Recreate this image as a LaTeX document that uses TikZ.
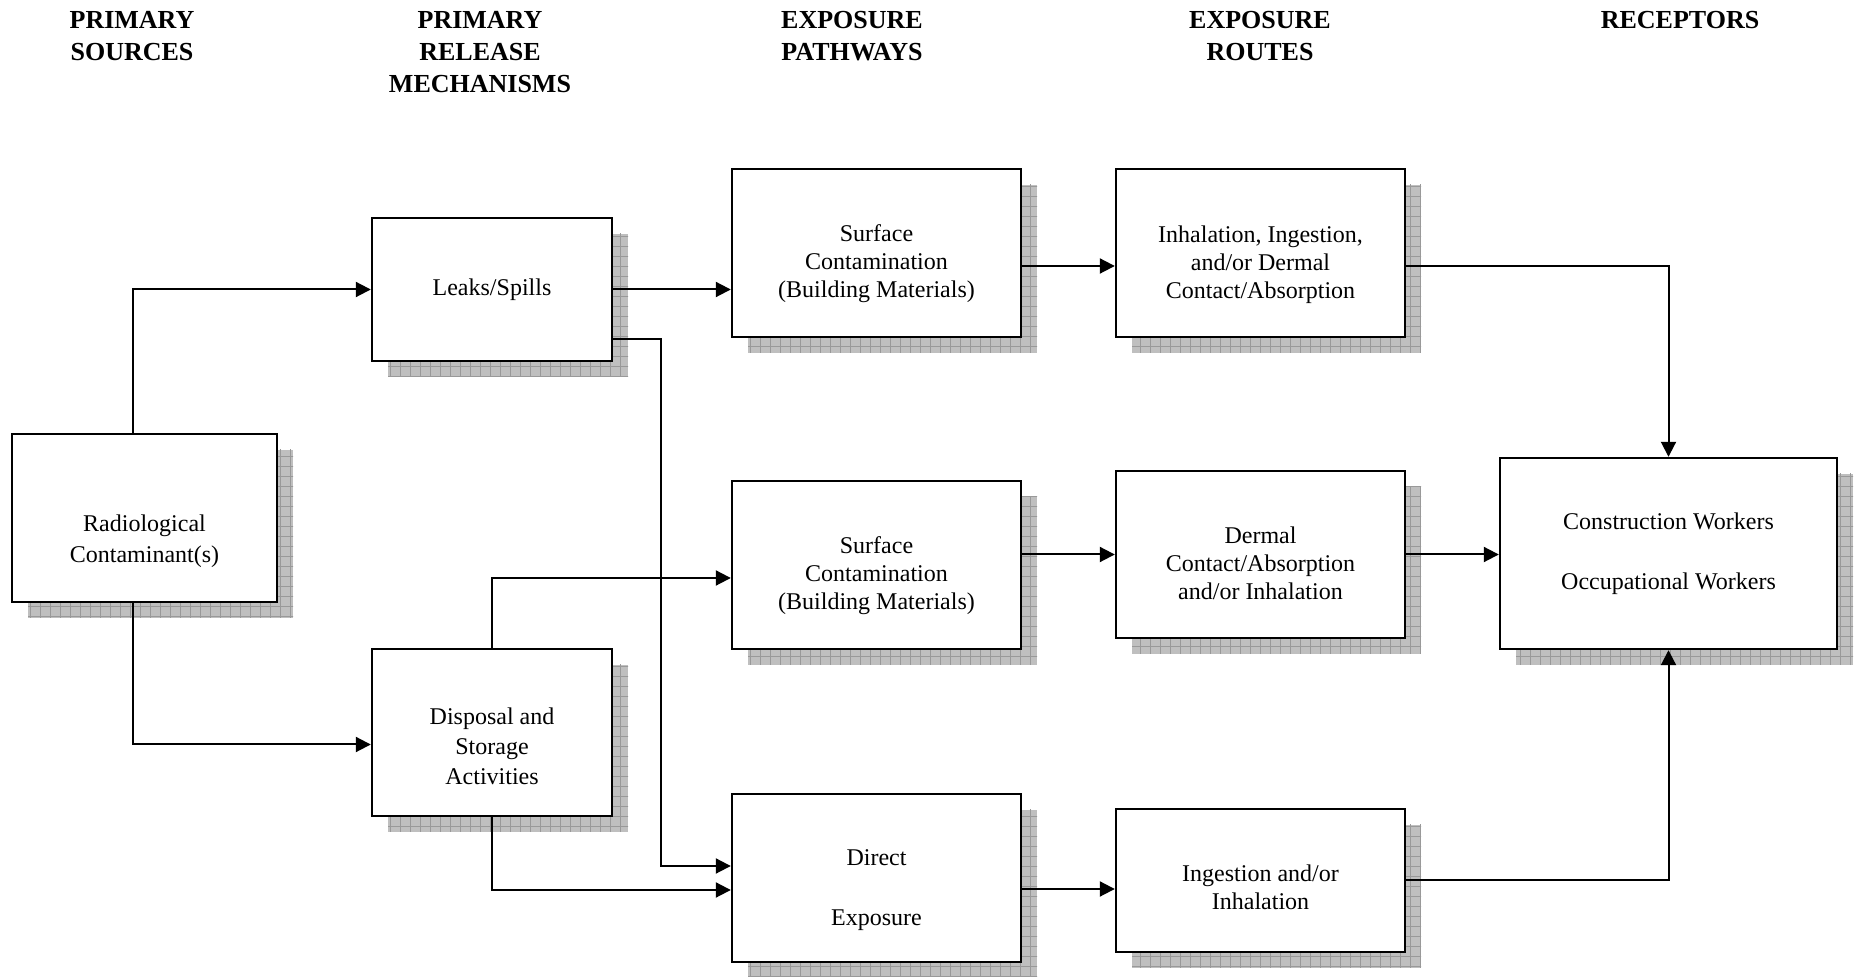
\documentclass[tikz,border=0pt]{standalone}
\usepackage{fontspec}
\setmainfont{Liberation Serif}
\usetikzlibrary{arrows.meta,shadows,patterns.meta}
\newcommand{\topgap}[1]{\rule{0pt}{#1}}

\begin{document}
\begin{tikzpicture}[x=0.5pt,y=-0.5pt,line width=1pt,>={Triangle[length=7.5pt,width=7.5pt]},
  box/.style={draw,line width=1.2pt,fill=white,align=center,inner sep=0pt,
    font=\fontsize{12pt}{14pt}\selectfont,
    general shadow={shadow xshift=8pt,shadow yshift=-8pt,fill=gray!50},
    general shadow={shadow xshift=8pt,shadow yshift=-8pt,pattern={Lines[distance=5pt,angle=0,line width=0.5pt]},pattern color=gray!80},
    general shadow={shadow xshift=8pt,shadow yshift=-8pt,pattern={Lines[distance=5pt,angle=90,line width=0.5pt]},pattern color=gray!80}},
  head/.style={anchor=north,align=center,inner sep=0pt,font=\fontsize{13pt}{16pt}\selectfont\bfseries}]
   \useasboundingbox (0,0) rectangle (1854,977);

   \node[head] (h_src) at (132,10) {PRIMARY\\SOURCES};
   \node[head] (h_rel) at (480,10) {PRIMARY\\RELEASE\\MECHANISMS};
   \node[head] (h_path) at (852,10) {EXPOSURE\\PATHWAYS};
   \node[head] (h_route) at (1260,10) {EXPOSURE\\ROUTES};
   \node[head] (h_rec) at (1680,10) {RECEPTORS};

   \node[box,minimum width=132.5pt,minimum height=84pt] (src) at (144.5,518) {\topgap{31.5pt}Radiological\\[1.5pt]Contaminant(s)};
   \node[box,minimum width=120pt,minimum height=71.5pt] (leak) at (492,289.5) {Leaks/Spills};
   \node[box,minimum width=120pt,minimum height=83.5pt] (disp) at (492,732.5) {\topgap{22pt}Disposal and\\[1pt]Storage\\[1pt]Activities};
   \node[box,minimum width=144.5pt,minimum height=84pt] (surf_1) at (876.5,253) {\topgap{19.5pt}Surface\\Contamination\\(Building Materials)};
   \node[box,minimum width=144.5pt,minimum height=84pt] (surf_2) at (876.5,565) {\topgap{19.5pt}Surface\\Contamination\\(Building Materials)};
   \node[box,minimum width=144.5pt,minimum height=84pt] (direct) at (876.5,878) {\topgap{20pt}Direct\\[16pt]Exposure};
   \node[box,minimum width=144.5pt,minimum height=84pt] (inhal) at (1260.5,253) {\topgap{20pt}Inhalation, Ingestion,\\and/or Dermal\\Contact/Absorption};
   \node[box,minimum width=144.5pt,minimum height=83.5pt] (dermal) at (1260.5,554.5) {\topgap{17.5pt}Dermal\\Contact/Absorption\\and/or Inhalation};
   \node[box,minimum width=144.5pt,minimum height=71.5pt] (ingest) at (1260.5,880.5) {\topgap{15pt}Ingestion and/or\\Inhalation};
   \node[box,minimum width=168.5pt,minimum height=95.5pt] (rec) at (1668.5,553.5) {Construction Workers\\[16pt]Occupational Workers};

   \draw[->] ([xshift=-6pt]src.north) |- (leak.west);
   \draw[->] ([xshift=-6pt]src.south) |- ([yshift=-6pt]disp.west);
   \draw[->] (leak.east) -- (leak.east -| surf_1.west);
   \draw[->] ([yshift=11.5pt]leak.south east) -- ++(24pt,0) |- ([yshift=6pt]direct.west);
   \draw[->] (disp.north) |- ([yshift=-6.5pt]surf_2.west);
   \draw[->] (disp.south) |- ([yshift=-6pt]direct.west);
   \draw[->] ([yshift=-6.5pt]surf_1.east) -- ([yshift=-6.5pt]inhal.west);
   \draw[->] (surf_2.east |- dermal.west) -- (dermal.west);
   \draw[->] ([yshift=-5.5pt]direct.east) -- ([yshift=-5.5pt]direct.east -| ingest.west);
   \draw[->] ([yshift=-6.5pt]inhal.east) -| (rec.north);
   \draw[->] (dermal.east) -- (dermal.east -| rec.west);
   \draw[->] (ingest.east) -| (rec.south);
\end{tikzpicture}
\end{document}
